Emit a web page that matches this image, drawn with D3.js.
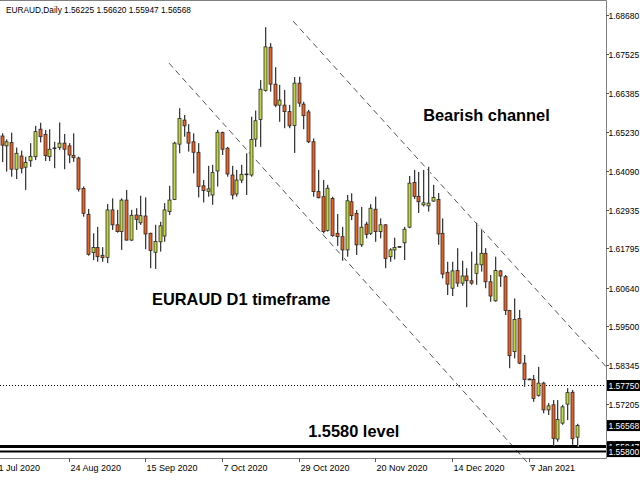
<!DOCTYPE html>
<html><head><meta charset="utf-8">
<script src="https://cdn.jsdelivr.net/npm/d3@7"></script>
<style>html,body{margin:0;padding:0;background:#fff;}svg{display:block;}</style>
</head><body>
<svg id="chart" width="640" height="480"></svg>
<script>
// ---- DATA ----
const title = "EURAUD,Daily  1.56225 1.56620 1.55947 1.56568";
const monthDays = [
  ["2020-08", [4,5,6,7,10,11,12,13,14,17,18,19,20,21,24,25,26,27,28,31]],
  ["2020-09", [1,2,3,4,7,8,9,10,11,14,15,16,17,18,21,22,23,24,25,28,29,30]],
  ["2020-10", [1,2,5,6,7,8,9,12,13,14,15,16,19,20,21,22,23,26,27,28,29,30]],
  ["2020-11", [2,3,4,5,6,9,10,11,12,13,16,17,18,19,20,23,24,25,26,27,30]],
  ["2020-12", [1,2,3,4,7,8,9,10,11,14,15,16,17,18,21,22,23,24,28,29,30,31]],
  ["2021-01", [4,5,6,7,8,11,12,13,14,15,18,19,20,21]]
];
const dates = monthDays.flatMap(([m, ds]) => ds.map(d => m + "-" + String(d).padStart(2, "0")));

const open = [1.6511,1.6482,1.6492,1.6413,1.6452,1.6419,1.6438,1.6450,1.6531,1.6516,
1.6450,1.6474,1.6477,1.6490,1.6482,1.6454,1.6446,1.6356,1.6280,1.6167,
1.6182,1.6159,1.6153,1.6293,1.6249,1.6229,1.6322,1.6204,1.6278,1.6255,
1.6275,1.6224,1.6168,1.6199,1.6216,1.6288,1.6324,1.6487,1.6558,1.6522,
1.6494,1.6463,1.6364,1.6348,1.6337,1.6408,1.6521,1.6475,1.6396,1.6340,
1.6381,1.6398,1.6396,1.6502,1.6560,1.6645,1.6773,1.6664,1.6602,1.6602,
1.6583,1.6542,1.6667,1.6605,1.6582,1.6494,1.6347,1.6332,1.6232,1.6327,
1.6224,1.6214,1.6175,1.6317,1.6283,1.6190,1.6251,1.6224,1.6295,1.6229,
1.6249,1.6155,1.6175,1.6184,1.6196,1.6242,1.6374,1.6333,1.6308,1.6305,
1.6319,1.6324,1.6224,1.6109,1.6062,1.6114,1.6077,1.6098,1.6084,1.6106,
1.6131,1.6165,1.6081,1.6025,1.6113,1.6096,1.5996,1.5875,1.5973,1.5841,
1.5794,1.5793,1.5746,1.5782,1.5703,1.5718,1.5617,1.5664,1.5720,1.5755,
1.56225];
const high = [1.6519,1.6501,1.6521,1.6477,1.6468,1.6450,1.6490,1.6541,1.6550,1.6529,
1.6531,1.6494,1.6551,1.6517,1.6490,1.6519,1.6450,1.6362,1.6296,1.6224,
1.6243,1.6183,1.6310,1.6327,1.6293,1.6327,1.6352,1.6293,1.6298,1.6335,
1.6330,1.6226,1.6249,1.6258,1.6313,1.6364,1.6494,1.6593,1.6573,1.6546,
1.6519,1.6490,1.6381,1.6423,1.6426,1.6529,1.6524,1.6479,1.6423,1.6411,
1.6426,1.6460,1.6568,1.6586,1.6676,1.6832,1.6785,1.6714,1.6662,1.6647,
1.6603,1.6685,1.6686,1.6612,1.6588,1.6504,1.6411,1.6381,1.6367,1.6332,
1.6281,1.6243,1.6337,1.6342,1.6293,1.6302,1.6258,1.6310,1.6332,1.6268,
1.6251,1.6180,1.6211,1.6186,1.6243,1.6393,1.6411,1.6405,1.6411,1.6420,
1.6367,1.6343,1.6268,1.6140,1.6140,1.6180,1.6143,1.6121,1.6170,1.6255,
1.6234,1.6180,1.6101,1.6155,1.6116,1.6101,1.5998,1.6032,1.5998,1.5865,
1.5796,1.5806,1.5830,1.5786,1.5723,1.5732,1.5732,1.5718,1.5767,1.5762,
1.56620];
const low = [1.6434,1.6406,1.6391,1.6384,1.6401,1.6352,1.6420,1.6440,1.6492,1.6437,
1.6437,1.6416,1.6470,1.6413,1.6431,1.6435,1.6347,1.6273,1.6158,1.6145,
1.6140,1.6140,1.6136,1.6234,1.6226,1.6175,1.6202,1.6201,1.6234,1.6249,
1.6177,1.6121,1.6119,1.6170,1.6199,1.6278,1.6322,1.6460,1.6509,1.6465,
1.6401,1.6330,1.6315,1.6332,1.6308,1.6362,1.6455,1.6391,1.6324,1.6332,
1.6372,1.6337,1.6391,1.6479,1.6479,1.6642,1.6642,1.6596,1.6553,1.6534,
1.6534,1.6461,1.6597,1.6531,1.6490,1.6332,1.6327,1.6224,1.6229,1.6214,
1.6187,1.6143,1.6155,1.6263,1.6160,1.6184,1.6209,1.6219,1.6199,1.6209,
1.6121,1.6140,1.6147,1.6181,1.6145,1.6239,1.6325,1.6284,1.6303,1.6288,
1.6317,1.6190,1.6091,1.6042,1.6039,1.6066,1.6069,1.6006,1.6072,1.6072,
1.6111,1.6062,1.6022,1.6022,1.6066,1.5983,1.5826,1.5855,1.5838,1.5771,
1.5791,1.5727,1.5742,1.5693,1.5688,1.5598,1.5609,1.5659,1.5673,1.5600,
1.55947];
const close = [1.6484,1.6494,1.6413,1.6460,1.6416,1.6433,1.6451,1.6524,1.6509,1.6453,
1.6472,1.6476,1.6490,1.6472,1.6455,1.6447,1.6354,1.6283,1.6162,1.6182,
1.6155,1.6152,1.6293,1.6249,1.6229,1.6322,1.6204,1.6277,1.6265,1.6276,
1.6222,1.6173,1.6200,1.6246,1.6293,1.6322,1.6490,1.6563,1.6541,1.6490,
1.6463,1.6362,1.6350,1.6355,1.6403,1.6522,1.6472,1.6399,1.6337,1.6381,
1.6398,1.6399,1.6501,1.6556,1.6649,1.6774,1.6664,1.6602,1.6617,1.6583,
1.6541,1.6667,1.6608,1.6571,1.6494,1.6347,1.6329,1.6229,1.6357,1.6217,
1.6214,1.6175,1.6320,1.6276,1.6190,1.6242,1.6221,1.6298,1.6229,1.6249,
1.6150,1.6175,1.6182,1.6185,1.6236,1.6372,1.6333,1.6317,1.6314,1.6313,
1.6330,1.6222,1.6104,1.6074,1.6113,1.6077,1.6098,1.6084,1.6077,1.6133,
1.6165,1.6081,1.6039,1.6114,1.6098,1.5996,1.5863,1.5970,1.5841,1.5793,
1.5793,1.5737,1.5782,1.5703,1.5715,1.5619,1.5675,1.5712,1.5754,1.5618,
1.56568];

// x-axis labels: bar index (0 = first visible bar) and text
const xTickIndex = [-2, 14, 30, 46, 62, 78, 94, 110];
const xTickLabels = ["31 Jul 2020","24 Aug 2020","15 Sep 2020","7 Oct 2020","29 Oct 2020","20 Nov 2020","14 Dec 2020","7 Jan 2021"];
// price-axis labels
const yTicks = [1.68680,1.67525,1.66385,1.65230,1.64090,1.62935,1.61795,1.60640,1.59500,1.58345,1.57205,1.56050];
// highlighted price labels (black boxes)
const markedPrices = [1.57750, 1.56568, 1.55947, 1.55800];
const dottedLevel = 1.57750;
const supportLevels = [1.55947, 1.55800];
// channel lines: [barIndex, price] pairs
const upperChannel = [[60.85, 1.6850], [126.2, 1.5830]];
const lowerChannel = [[34.96, 1.6726], [111.2, 1.5525]];
const annotations = [
  {text: "Bearish channel", idx: 88, price: 1.6555},
  {text: "EURAUD D1 timeframe", idx: 31.4, price: 1.6013},
  {text: "1.5580 level", idx: 64.0, price: 1.5624}
];

// ---- CHART ----
const svg = d3.select("#chart");
const plotRight = 606, plotBottom = 458;
const x = d3.scaleLinear().domain([0, 120]).range([1.5, 576.5]);
const y = d3.scaleLinear().domain([1.5580, 1.6868]).range([451.6, 15]);
const fmt = d3.format(".5f");
const font = "Liberation Sans, Arial, sans-serif";

svg.append("rect").attr("width", 640).attr("height", 480).attr("fill", "#fff");

// frame
svg.append("path")
  .attr("d", `M0,0.5H${plotRight + 0.5}V${plotBottom + 0.5}H0`)
  .attr("fill", "none").attr("stroke", "#808080").attr("stroke-width", 1);

// title
svg.append("text").attr("x", 6).attr("y", 13)
  .attr("font-family", font).attr("font-size", 8.3)
  .attr("fill", "#000").text(title);

// channel lines
const line = d3.line().x(d => x(d[0])).y(d => y(d[1]));
[upperChannel, lowerChannel].forEach(c => {
  svg.append("path").attr("d", line(c)).attr("fill", "none")
    .attr("stroke", "#555").attr("stroke-width", 1).attr("stroke-dasharray", "6,4");
});

// dotted level
svg.append("line").attr("x1", 0).attr("x2", plotRight)
  .attr("y1", Math.round(y(dottedLevel)) + 0.5).attr("y2", Math.round(y(dottedLevel)) + 0.5)
  .attr("stroke", "#000").attr("stroke-width", 1).attr("stroke-dasharray", "1,2");

// support lines
svg.append("line").attr("x1", 0).attr("x2", plotRight)
  .attr("y1", y(supportLevels[0])).attr("y2", y(supportLevels[0]))
  .attr("stroke", "#000").attr("stroke-width", 3);
svg.append("line").attr("x1", 0).attr("x2", plotRight)
  .attr("y1", y(supportLevels[1])).attr("y2", y(supportLevels[1]))
  .attr("stroke", "#000").attr("stroke-width", 2);

// candles
const bars = d3.range(open.length).map(i => ({i, date: dates[i], o: open[i], h: high[i], l: low[i], c: close[i]}));
const g = svg.append("g");
const cg = g.selectAll("g").data(bars).join("g");
cg.append("line")
  .attr("x1", d => Math.round(x(d.i)) + 1.5).attr("x2", d => Math.round(x(d.i)) + 1.5)
  .attr("y1", d => y(d.h)).attr("y2", d => y(d.l))
  .attr("stroke", "#c8c8c8").attr("stroke-width", 1);
cg.append("line")
  .attr("x1", d => Math.round(x(d.i)) + 0.5).attr("x2", d => Math.round(x(d.i)) + 0.5)
  .attr("y1", d => y(d.h)).attr("y2", d => y(d.l))
  .attr("stroke", "#3a3a3a").attr("stroke-width", 1);
cg.append("rect")
  .attr("x", d => Math.round(x(d.i)) - 1)
  .attr("width", 3)
  .attr("y", d => y(Math.max(d.o, d.c)))
  .attr("height", d => Math.max(0.8, Math.abs(y(d.o) - y(d.c))))
  .attr("fill", d => d.c >= d.o ? "#c3d93a" : "#f0601e")
  .attr("stroke", "#2a2a2a").attr("stroke-width", 0.8);

// annotations
svg.selectAll("text.ann").data(annotations).join("text").attr("class", "ann")
  .attr("x", d => x(d.idx)).attr("y", d => y(d.price))
  .attr("font-family", font).attr("font-weight", "bold")
  .attr("font-size", 16.4).attr("fill", "#000").text(d => d.text);

// price axis
const yg = svg.append("g");
yTicks.forEach(t => {
  const yy = Math.round(y(t)) + 0.5;
  yg.append("line").attr("x1", plotRight).attr("x2", plotRight + 3).attr("y1", yy).attr("y2", yy).attr("stroke", "#555");
  yg.append("text").attr("x", plotRight + 2.5).attr("y", yy + 3.2)
    .attr("font-family", font).attr("font-size", 8.5).attr("fill", "#000").text(fmt(t));
});
markedPrices.forEach(p => {
  const yy = y(p);
  yg.append("rect").attr("x", plotRight + 1).attr("y", yy - 5.5).attr("width", 34).attr("height", 11).attr("fill", "#000");
  yg.append("text").attr("x", plotRight + 2.5).attr("y", yy + 3.2)
    .attr("font-family", font).attr("font-size", 8.5).attr("fill", "#fff").text(fmt(p));
});

// time axis
const xg = svg.append("g");
xTickIndex.forEach((t, k) => {
  const xx = Math.round(x(t)) + 0.5;
  xg.append("line").attr("x1", xx).attr("x2", xx).attr("y1", plotBottom).attr("y2", plotBottom + 4).attr("stroke", "#555");
  xg.append("text").attr("x", xx + 1).attr("y", plotBottom + 13)
    .attr("font-family", font).attr("font-size", 9).attr("fill", "#000").text(xTickLabels[k]);
});
</script>
</body></html>
